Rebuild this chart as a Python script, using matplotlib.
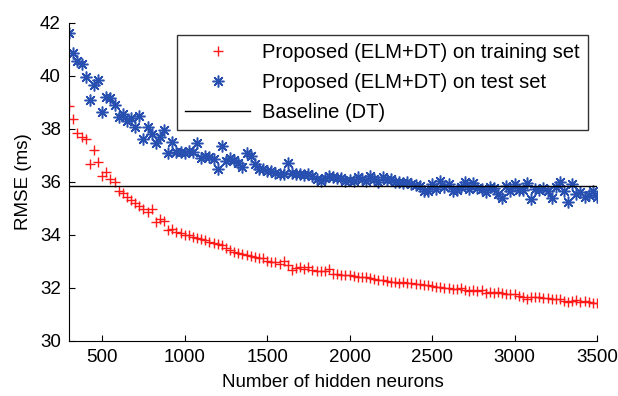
import numpy as np
import matplotlib
matplotlib.use('Agg')
import matplotlib.pyplot as plt

plt.rcParams['font.family'] = ['Liberation Sans', 'DejaVu Sans']

# number of hidden neurons (step 25)
neurons = np.arange(300, 3525, 25)

rmse_train = [
    38.85, 38.35, 37.85, 37.70, 37.60, 36.65, 37.20, 36.75, 36.20, 36.35,
    36.10, 36.00, 35.65, 35.55, 35.40, 35.30, 35.20, 35.07, 34.98, 34.85,
    34.95, 34.46, 34.58, 34.52, 34.16, 34.22, 34.10, 34.05, 34.00, 33.97,
    33.90, 33.88, 33.85, 33.78, 33.73, 33.70, 33.65, 33.60, 33.50, 33.42,
    33.33, 33.30, 33.27, 33.21, 33.18, 33.14, 33.10, 33.12, 33.02, 32.98,
    32.95, 32.90, 32.99, 32.85, 32.66, 32.72, 32.76, 32.70, 32.76, 32.68,
    32.64, 32.62, 32.64, 32.70, 32.53, 32.50, 32.48, 32.47, 32.46, 32.42,
    32.40, 32.40, 32.38, 32.36, 32.32, 32.30, 32.28, 32.25, 32.22, 32.20,
    32.19, 32.22, 32.18, 32.16, 32.13, 32.12, 32.09, 32.08, 32.06, 32.03,
    32.02, 32.00, 31.99, 31.96, 31.94, 31.98, 31.92, 31.88, 31.90, 31.87,
    31.91, 31.80, 31.82, 31.80, 31.82, 31.78, 31.76, 31.74, 31.75, 31.70,
    31.66, 31.58, 31.64, 31.63, 31.65, 31.62, 31.60, 31.58, 31.57, 31.55,
    31.49, 31.45, 31.50, 31.52, 31.47, 31.49, 31.44, 31.42, 31.43,
]

rmse_test = [
    41.61, 40.85, 40.55, 40.43, 39.94, 39.09, 39.63, 39.84, 38.63, 39.21,
    39.17, 38.88, 38.44, 38.54, 38.29, 38.41, 38.05, 38.48, 37.62, 38.05,
    37.80, 37.44, 37.68, 37.93, 37.07, 37.50, 37.13, 37.12, 37.07, 37.15,
    37.10, 37.46, 36.89, 36.95, 36.92, 36.85, 36.49, 37.34, 36.77, 36.89,
    36.80, 36.70, 36.55, 37.07, 36.96, 36.65, 36.46, 36.47, 36.41, 36.38,
    36.34, 36.30, 36.28, 36.71, 36.34, 36.30, 36.28, 36.25, 36.30, 36.22,
    36.10, 36.04, 36.15, 36.22, 36.16, 36.12, 36.14, 36.04, 36.06, 36.02,
    36.16, 36.08, 36.04, 36.22, 36.10, 35.97, 36.16, 36.05, 36.10, 35.97,
    35.99, 35.95, 36.00, 35.91, 35.88, 35.85, 35.66, 35.66, 35.91, 35.73,
    36.04, 35.79, 35.91, 35.66, 35.70, 35.80, 36.00, 35.73, 35.95, 35.75,
    35.72, 35.60, 35.79, 35.75, 35.54, 35.38, 35.85, 35.63, 35.91, 35.70,
    35.68, 35.95, 35.33, 35.73, 35.70, 35.76, 35.65, 35.38, 35.80, 36.00,
    35.63, 35.23, 35.91, 35.54, 35.60, 35.42, 35.50, 35.66, 35.42,
]

baseline = 35.85

fig = plt.figure(figsize=(6.18, 3.96), dpi=100)
ax = fig.add_axes([0.112, 0.14, 0.854, 0.803])

ax.plot(neurons, rmse_train, linestyle='none', marker='+', color='#ff1a1a',
        markersize=7.5, markeredgewidth=1.0,
        label='Proposed (ELM+DT) on training set')
ax.plot(neurons, rmse_test, linestyle='none', marker=(8, 2, 0), color='#2850b0',
        markersize=8.5, markeredgewidth=1.1,
        label='Proposed (ELM+DT) on test set')
ax.plot([neurons[0], neurons[-1]], [baseline, baseline], color='black',
        linewidth=1.0, label='Baseline (DT)')

ax.set_xlim(300, 3500)
ax.set_ylim(30, 42)
ax.set_xticks([500, 1000, 1500, 2000, 2500, 3000, 3500])
ax.set_yticks([30, 32, 34, 36, 38, 40, 42])
ax.tick_params(direction='in', length=4, labelsize=13.5, pad=6)
ax.spines['top'].set_visible(False)
ax.spines['right'].set_visible(False)

ax.set_xlabel('Number of hidden neurons', fontsize=13.5, labelpad=6)
ax.set_ylabel('RMSE (ms)', fontsize=13.5, labelpad=6)

leg = ax.legend(loc='upper left', bbox_to_anchor=(0.205, 0.962), fontsize=14.5,
                frameon=True, fancybox=False, edgecolor='black',
                borderpad=0.4, handlelength=3.2, handletextpad=0.6,
                labelspacing=0.55, borderaxespad=0)
leg.get_frame().set_linewidth(1.0)

fig.savefig('out.png', dpi=100)
